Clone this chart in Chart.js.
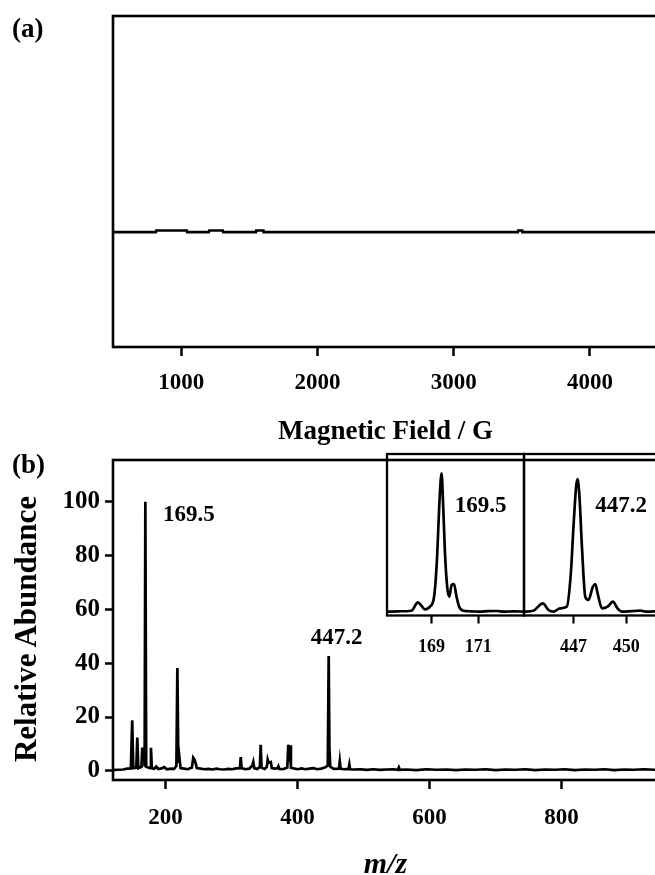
<!DOCTYPE html>
<html><head><meta charset="utf-8">
<script src="https://cdn.jsdelivr.net/npm/chart.js@4.4.1/dist/chart.umd.min.js"></script>
<style>
html,body{margin:0;padding:0;background:#fff;overflow:hidden;width:655px;height:875px;position:relative;}
canvas{position:absolute;}
.plabel{position:absolute;font:bold 27px "Liberation Serif","Times New Roman",serif;color:#000;line-height:1;}
.ytitle{position:absolute;left:25px;top:629px;transform:translate(-50%,-50%) rotate(-90deg);white-space:nowrap;
  font:bold 31px "Liberation Serif","Times New Roman",serif;color:#000;line-height:1;}
</style></head><body>
<canvas id="cA" width="660" height="460" style="left:0;top:0"></canvas>
<canvas id="cB" width="660" height="440" style="left:0;top:440px"></canvas>
<canvas id="cI1" width="150" height="215" style="left:380px;top:444px"></canvas>
<canvas id="cI2" width="140" height="215" style="left:520px;top:444px"></canvas>
<div class="plabel" style="left:12px;top:15px">(a)</div>
<div class="plabel" style="left:12px;top:451px">(b)</div>
<div class="ytitle">Relative Abundance</div>
<script>
// ---------- DATA ----------
// Panel (a): EPR trace
const aField  = [500, 815, 817, 1042, 1044, 1204, 1206, 1306, 1308, 1549, 1551, 1604, 1606, 3472, 3474, 3503, 3505, 4500];
const aSignal = [0.347,0.347,0.352,0.352,0.347,0.347,0.352,0.352,0.347,0.347,0.352,0.352,0.347,0.347,0.352,0.352,0.347,0.347];
const aTicks  = [1000, 2000, 3000, 4000];

// Panel (b): mass spectrum
const msMz = [120,128,136,142,147.5,149.6,151.2,155.8,157.3,158.8,163.6,164.8,166.0,167.2,168.4,169.5,170.8,176.8,178,179.3,
  183,186,189,194,198,202,208,213,216.5,218,219.5,221,222.8,228,234,240,242,244,245.5,247.5,
  253,259,265,271,277,283,289,295,301,307,312.8,314,315.3,321,327,331.5,333,334.5,339,343,
  344.2,345.5,350,353.5,354.8,356.2,359.6,361,366,369.8,371,372.3,378,384.5,386,387.3,388.6,390,396,400,
  406,412,418,424,430,436,442,445.8,447.2,448.3,449.6,455,462.8,464,465.2,470,477.3,478.5,479.7,486,
  495,505,515,525,535,545,552,553.5,555,565,580,595,610,625,640,655,670,685,700,715,
  730,745,760,775,790,805,820,835,850,865,880,895,910,925,940,955];
const msAbund = [0.3,0.4,0.5,0.8,0.9,18.8,1.0,1.2,12.4,1.0,1.5,8.7,5.5,8.5,1.5,100,1.5,1.0,8.6,1.0,
  0.8,1.6,0.7,0.9,1.4,0.6,0.8,0.7,1.8,38.2,3.0,5.3,1.0,0.8,0.6,1.2,4.9,4.2,3.0,1.0,
  0.8,0.6,0.7,0.5,0.8,0.6,0.5,0.7,0.6,0.9,1.0,5.1,1.0,0.6,0.8,2.0,3.3,1.0,0.7,1.5,
  9.7,1.2,0.7,1.5,4.2,3.0,3.3,1.0,0.8,1.0,1.7,0.7,0.6,1.2,9.7,7.0,9.5,1.2,0.8,0.6,
  0.9,0.6,0.8,1.0,0.6,0.8,1.3,2.0,42.7,8.7,1.5,0.7,0.8,3.6,0.8,0.6,0.7,2.4,0.6,0.5,
  0.6,0.4,0.6,0.4,0.5,0.6,0.4,1.3,0.4,0.5,0.3,0.6,0.4,0.5,0.3,0.5,0.4,0.6,0.3,0.5,
  0.4,0.6,0.3,0.5,0.4,0.6,0.3,0.5,0.4,0.6,0.3,0.5,0.4,0.6,0.4,0.5];
const bTicksX = [200, 400, 600, 800];
const bTicksY = [0, 20, 40, 60, 80, 100];
const mainLabels = ['169.5', '447.2'];
const mainLabelPeaks = [169.5, 447.2];

// Insets
const ins1Mz = [167.1,167.6,168.14,168.42,168.57,168.71,168.93,169.11,169.24,169.33,169.43,169.5,169.57,169.67,169.76,169.86,169.96,170.07,170.18,170.36,170.7,171.07,171.4,171.79,172.1,172.5,172.95];
const ins1Ab = [0,0.3,0.7,6.8,4.3,1.7,3.6,10.8,39.7,75.9,100,76,44.6,18,10.8,19.3,20,10.8,3.6,0.7,0.3,0,0.4,0.5,0,0.3,0];
const ins1Ticks = [169, 171];
const ins2Mz = [444.19,444.72,445.26,445.58,445.86,446.24,446.62,446.85,447.0,447.15,447.23,447.34,447.48,447.67,447.85,448.1,448.24,448.37,448.62,448.94,449.24,449.5,449.76,450.3,450.8,451.18,451.8];
const ins2Ab = [0,0.7,6,1.2,0,2.4,3.6,27.7,61.4,90.3,95.7,83,47,10.8,8.5,18,20,13.3,2.4,3.6,7.2,2.4,0,0.4,0.7,0,0.5];
const ins2Ticks = [447, 450];

// ---------- STYLE / HELPERS ----------
const FONT = "'Liberation Serif','Times New Roman',serif";
const pts = (xs, ys) => xs.map((x, i) => ({x, y: ys[i]}));
const boxPlugin = lw => ({ id: 'box', afterDraw(chart) {
  const {ctx, chartArea: a} = chart;
  ctx.save(); ctx.strokeStyle = '#000'; ctx.lineWidth = lw;
  ctx.strokeRect(a.left, a.top, a.right - a.left, a.bottom - a.top); ctx.restore();
}});
const labelPlugin = (texts, peaksX, peaksY, offs, size) => ({ id: 'peakLabels', afterDraw(chart) {
  const {ctx, scales} = chart;
  ctx.save(); ctx.fillStyle = '#000'; ctx.font = `bold ${size}px ${FONT}`;
  ctx.textAlign = 'center'; ctx.textBaseline = 'middle';
  texts.forEach((t, i) => {
    const px = scales.x.getPixelForValue(peaksX[i]) + offs[i][0];
    const py = scales.y.getPixelForValue(peaksY[i]) + offs[i][1];
    ctx.fillText(t, px, py);
  });
  ctx.restore();
}});
const peakHeight = (xs, ys, x) => ys[xs.indexOf(x)];
const baseOpts = {
  responsive: false, animation: false, devicePixelRatio: 1,
  plugins: { legend: { display: false }, tooltip: { enabled: false } },
  elements: { point: { radius: 0 } }
};
const xAxis = (min, max, ticks, height, tl, tw, fsize, pad, title) => ({
  type: 'linear', min, max,
  afterBuildTicks: s => { s.ticks = ticks.map(v => ({value: v})); },
  afterFit: s => { s.height = height; },
  grid: { display: true, drawOnChartArea: false, drawTicks: true, tickLength: tl, tickWidth: tw, tickColor: '#000', color: '#000' },
  border: { display: false },
  ticks: { color: '#000', font: { family: FONT, weight: 'bold', size: fsize }, padding: pad, maxRotation: 0, autoSkip: false, callback: v => String(v) },
  title: title || { display: false }
});

// ---------- PANEL (a) ----------
new Chart(document.getElementById('cA'), {
  type: 'line',
  data: { datasets: [{ data: pts(aField, aSignal), borderColor: '#000', borderWidth: 2.6, tension: 0 }] },
  options: Object.assign({}, baseOpts, {
    layout: { padding: { top: 16, right: 2, left: 0, bottom: 0 } },
    scales: {
      x: xAxis(500, 4500, aTicks, 460 - 347, 9, 2.5, 23, 13,
        { display: true, text: 'Magnetic Field / G', color: '#000', font: { family: FONT, weight: 'bold', size: 27, lineHeight: 1 }, padding: { top: 0, bottom: 14.5 } }),
      y: { min: 0, max: 1, afterFit: s => { s.width = 113; }, grid: { display: false }, border: { display: false }, ticks: { display: false } }
    }
  }),
  plugins: [boxPlugin(2.6)]
});

// ---------- PANEL (b) ----------
new Chart(document.getElementById('cB'), {
  type: 'line',
  data: { datasets: [{ data: pts(msMz, msAbund), borderColor: '#000', borderWidth: 2.7, tension: 0 }] },
  options: Object.assign({}, baseOpts, {
    layout: { padding: { top: 13, right: 2, left: 0, bottom: 0 } },
    scales: {
      x: xAxis(120.5, 946, bTicksX, 100, 9, 2.5, 23, 15,
        { display: true, text: 'm/z', color: '#000', font: { family: FONT, weight: 'bold', style: 'italic', size: 30, lineHeight: 1 }, padding: { top: 0, bottom: 0 } }),
      y: {
        min: -3.4, max: 115.5,
        afterBuildTicks: s => { s.ticks = bTicksY.map(v => ({value: v})); },
        afterFit: s => { s.width = 113; },
        grid: { display: true, drawOnChartArea: false, drawTicks: true, tickLength: 8, tickWidth: 2.5, tickColor: '#000' },
        border: { display: false },
        ticks: { color: '#000', font: { family: FONT, weight: 'bold', size: 25 }, padding: 5, autoSkip: false, callback: v => String(v) },
        title: { display: false }
      }
    }
  }),
  plugins: [boxPlugin(2.6), labelPlugin(mainLabels, mainLabelPeaks,
    mainLabelPeaks.map(p => peakHeight(msMz, msAbund, p)), [[43.5, 13], [8, -18]], 23)]
});

// ---------- INSETS ----------
function inset(id, xs, ys, min, max, ticks, padL, padR, label, peakX) {
  new Chart(document.getElementById(id), {
    type: 'line',
    data: { datasets: [{ data: pts(xs, ys), borderColor: '#000', borderWidth: 2.7, cubicInterpolationMode: 'monotone' }] },
    options: Object.assign({}, baseOpts, {
      layout: { padding: { top: 10, right: padR, left: padL, bottom: 0 } },
      scales: {
        x: xAxis(min, max, ticks, 43.5, 8, 2.2, 18, 13),
        y: { display: false, min: -2.75, max: 113.9 }
      }
    }),
    plugins: [boxPlugin(2.3), labelPlugin([label], [peakX], [peakHeight(xs, ys, peakX)], [id === 'cI1' ? [39, 33] : [43.7, 27]], 23)]
  });
}
inset('cI1', ins1Mz, ins1Ab, 167.1, 172.95, ins1Ticks, 7, 6, '169.5', 169.43);
inset('cI2', ins2Mz, ins2Ab, 444.19, 451.8, ins2Ticks, 4, 2, '447.2', 447.23);
</script>
</body></html>
